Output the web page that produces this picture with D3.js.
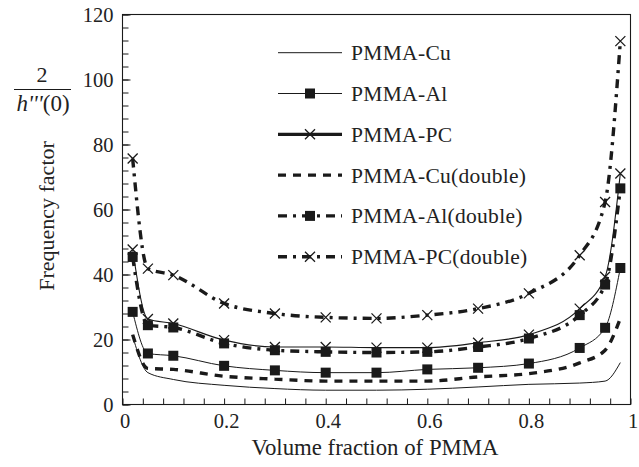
<!DOCTYPE html>
<html>
<head>
<meta charset="utf-8">
<script src="https://cdn.jsdelivr.net/npm/d3@7"></script>
<style>
  html, body { margin: 0; padding: 0; background: #fff; }
  svg { display: block; }
  text { font-family: "Liberation Serif", "DejaVu Serif", serif; fill: #222; }
</style>
</head>
<body>
<svg id="chart" width="639" height="467"></svg>
<script>
// ---- data ----
const xValues = [0.02, 0.05, 0.1, 0.2, 0.3, 0.4, 0.5, 0.6, 0.7, 0.8, 0.9, 0.95, 0.98];
const cuValues   = [21.0, 9.8, 7.7, 5.9, 4.9, 4.4, 4.4, 4.7, 5.4, 6.2, 6.6, 7.2, 12.9];
const alValues   = [28.5, 15.7, 15.0, 11.9, 10.5, 9.8, 9.8, 10.8, 11.3, 12.6, 17.4, 23.6, 42.0];
const pcValues   = [47.7, 26.3, 24.9, 19.8, 17.7, 17.7, 17.5, 17.5, 19.0, 21.5, 29.5, 39.3, 71.1];
const cuDValues  = [21.5, 11.1, 10.8, 8.7, 7.8, 7.2, 7.2, 7.2, 8.5, 9.5, 12.8, 16.7, 26.5];
const alDValues  = [45.4, 24.4, 23.7, 18.8, 16.7, 16.2, 16.0, 16.2, 17.7, 20.3, 27.5, 36.9, 66.5];
const pcDValues  = [75.7, 41.8, 39.8, 31.1, 28.0, 26.8, 26.5, 27.5, 29.5, 34.2, 45.9, 62.3, 111.8];
const seriesNames = ["PMMA-Cu", "PMMA-Al", "PMMA-PC", "PMMA-Cu(double)", "PMMA-Al(double)", "PMMA-PC(double)"];
const xTickValues = [0, 0.2, 0.4, 0.6, 0.8, 1];
const xTickLabels = ["0", "0.2", "0.4", "0.6", "0.8", "1"];
const yTickValues = [0, 20, 40, 60, 80, 100, 120];
const yTickLabels = ["0", "20", "40", "60", "80", "100", "120"];

// ---- styles (kept separate from data) ----
const styles = [
  { values: cuValues,  width: 1.0, legendWidth: 1.0, dash: null, marker: null },
  { values: alValues,  width: 1.0, legendWidth: 1.2, dash: null, marker: "square" },
  { values: pcValues,  width: 1.1, legendWidth: 3.2, dash: null, marker: "cross" },
  { values: cuDValues, width: 3.4, legendWidth: 3.4, dash: "8,7", marker: null },
  { values: alDValues, width: 3.4, legendWidth: 3.4, dash: "9,6,3,6", marker: "square" },
  { values: pcDValues, width: 3.4, legendWidth: 3.4, dash: "9,6,3,6", marker: "cross" }
];

const svg = d3.select("#chart");
svg.append("rect").attr("width", 639).attr("height", 467).attr("fill", "#fff");

const pLeft = 122.5, pRight = 630.5, pTop = 14.5, pBottom = 404.5;
const x = d3.scaleLinear().domain([0, 1]).range([pLeft, pRight]);
const y = d3.scaleLinear().domain([0, 120]).range([pBottom, pTop]);
const ink = "#1a1a1a";

// frame
svg.append("rect").attr("x", pLeft).attr("y", pTop)
  .attr("width", pRight - pLeft).attr("height", pBottom - pTop)
  .attr("fill", "none").attr("stroke", ink).attr("stroke-width", 1.1);

// x axis
const xAxis = svg.append("g").attr("transform", `translate(0,${pBottom})`)
  .call(d3.axisBottom(x).tickValues(d3.range(0, 1.0001, 0.04)).tickSizeInner(-6).tickSizeOuter(0).tickFormat(""));
xAxis.select(".domain").remove();
xAxis.selectAll("line").attr("stroke", ink).attr("stroke-width", 1);
const xLab = svg.append("g").attr("transform", `translate(0,${pBottom})`)
  .call(d3.axisBottom(x).tickValues(xTickValues).tickSize(0).tickPadding(0)
    .tickFormat((d, i) => xTickLabels[i]));
xLab.select(".domain").remove();
xLab.selectAll("text").attr("font-size", 20.5).attr("dy", null).attr("y", 23)
  .attr("dx", 2).style("font-family", "Liberation Serif").attr("fill", "#222");

// y axis
const yMinor = svg.append("g").attr("transform", `translate(${pLeft},0)`)
  .call(d3.axisLeft(y).tickValues(d3.range(0, 120.001, 4)).tickSizeInner(-6).tickSizeOuter(0).tickFormat(""));
yMinor.select(".domain").remove();
yMinor.selectAll("line").attr("stroke", ink).attr("stroke-width", 1);
const yMajor = svg.append("g").attr("transform", `translate(${pLeft},0)`)
  .call(d3.axisLeft(y).tickValues(yTickValues).tickSizeInner(-8).tickSizeOuter(0).tickPadding(0)
    .tickFormat((d, i) => yTickLabels[i]));
yMajor.select(".domain").remove();
yMajor.selectAll("line").attr("stroke", ink).attr("stroke-width", 1);
yMajor.selectAll("text").attr("font-size", 20.5).attr("x", -9).attr("dy", "0.34em")
  .style("font-family", "Liberation Serif").attr("fill", "#222");

// axis titles
svg.append("text").attr("x", 375).attr("y", 455).attr("text-anchor", "middle")
  .attr("font-size", 22.8).text("Volume fraction of PMMA");
svg.append("text").attr("transform", "translate(54,216) rotate(-90)")
  .attr("text-anchor", "middle").attr("font-size", 22).text("Frequency factor");
svg.append("text").attr("x", 42).attr("y", 82).attr("text-anchor", "middle")
  .attr("font-size", 22).text("2");
svg.append("line").attr("x1", 14).attr("x2", 71).attr("y1", 89.5).attr("y2", 89.5)
  .attr("stroke", ink).attr("stroke-width", 1.2);
const hText = svg.append("text").attr("x", 43).attr("y", 111).attr("text-anchor", "middle")
  .attr("font-size", 23);
hText.append("tspan").attr("font-style", "italic").text("h'''");
hText.append("tspan").text("(0)");

// series
const line = d3.line().x(d => x(d[0])).y(d => y(d[1])).curve(d3.curveMonotoneX);
function drawMarker(g, kind, cx, cy) {
  if (kind === "square") {
    g.append("rect").attr("x", cx - 5).attr("y", cy - 5).attr("width", 10).attr("height", 10)
      .attr("fill", ink);
  } else if (kind === "cross") {
    const s = 5;
    g.append("path").attr("d", `M${cx - s},${cy - s}L${cx + s},${cy + s}M${cx - s},${cy + s}L${cx + s},${cy - s}`)
      .attr("stroke", ink).attr("stroke-width", 1.3).attr("fill", "none");
  }
}
const plot = svg.append("g");
styles.forEach(s => {
  const pts = xValues.map((xv, i) => [xv, s.values[i]]);
  plot.append("path").attr("d", line(pts)).attr("fill", "none")
    .attr("stroke", ink).attr("stroke-width", s.width)
    .attr("stroke-dasharray", s.dash);
  if (s.marker) pts.forEach(p => drawMarker(plot, s.marker, x(p[0]), y(p[1])));
});

// legend
const legend = svg.append("g");
seriesNames.forEach((name, i) => {
  const s = styles[i];
  const ly = 52.7 + i * 40.8;
  legend.append("line").attr("x1", 278).attr("x2", 342).attr("y1", ly).attr("y2", ly)
    .attr("stroke", ink).attr("stroke-width", s.legendWidth)
    .attr("stroke-dasharray", s.dash);
  if (s.marker) drawMarker(legend, s.marker, 310, ly);
  legend.append("text").attr("x", 351).attr("y", ly + 7.5).attr("font-size", 21.5)
    .attr("letter-spacing", 0.3).text(name);
});
</script>
</body>
</html>
